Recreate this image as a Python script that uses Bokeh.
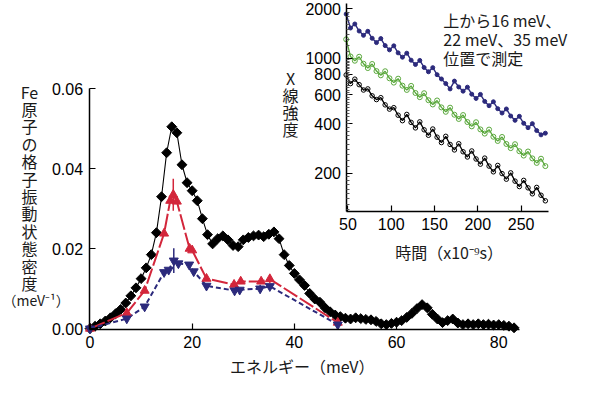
from bokeh.plotting import figure
from bokeh.models import (Range1d, LogScale, LinearAxis, LogAxis, FixedTicker,
                          PrintfTickFormatter, Label)
from bokeh.embed import file_html
from bokeh.resources import INLINE

# ---------------- main chart data (phonon DOS of Fe) ----------------
energy_total = [0, 1, 2, 3, 4, 5, 6, 7, 8, 9, 10, 11, 12, 13, 14, 15, 16, 17, 18, 19,
                20, 21, 22, 23, 24, 25, 26, 27, 28, 29, 30, 31, 32, 33, 34, 35, 36, 37, 38, 39,
                40, 41, 42, 43, 44, 45, 46, 47, 48, 49, 50, 51, 52, 53, 54, 55, 56, 57, 58, 59,
                60, 61, 62, 63, 64, 65, 66, 67, 68, 69, 70, 71, 72, 73, 74, 75, 76, 77, 78, 79,
                80, 81, 82, 83]
dos_total = [0.0000, 0.0006, 0.0012, 0.0019, 0.0027, 0.0037, 0.0048, 0.0064, 0.0082, 0.0102,
             0.0125, 0.0152, 0.0185, 0.0240, 0.0330, 0.0440, 0.0505, 0.0490, 0.0410, 0.0365,
             0.0345, 0.0320, 0.0275, 0.0235, 0.0212, 0.0225, 0.0232, 0.0222, 0.0208, 0.0205,
             0.0222, 0.0228, 0.0232, 0.0234, 0.0230, 0.0236, 0.0242, 0.0225, 0.0185, 0.0158,
             0.0138, 0.0122, 0.0108, 0.0088, 0.0074, 0.0066, 0.0052, 0.0042, 0.0034, 0.0030,
             0.0026, 0.0024, 0.0027, 0.0025, 0.0023, 0.0022, 0.0018, 0.0012, 0.0010, 0.0013,
             0.0016, 0.0020, 0.0028, 0.0038, 0.0050, 0.0060, 0.0052, 0.0036, 0.0024, 0.0015,
             0.0020, 0.0024, 0.0014, 0.0010, 0.0012, 0.0010, 0.0012, 0.0010, 0.0011, 0.0009,
             0.0010, 0.0008, 0.0006, 0.0002]

energy_red = [0, 7.2, 10.7, 14.5, 15.7, 16.3, 17.0, 19.5, 20.0, 22.8, 28.2, 29.5, 33.5, 35.2, 48.5]
dos_red = [0, 0.0039, 0.0095, 0.0238, 0.0320, 0.0335, 0.0318, 0.0200, 0.0196, 0.0125,
           0.0110, 0.0118, 0.0118, 0.0124, 0.0015]
err_red = [0, 0, 0, 0, 0, 0.0040, 0, 0, 0, 0, 0, 0, 0, 0.0010, 0]

energy_blue = [0, 7.2, 10.7, 14.5, 15.4, 16.4, 17.3, 19.4, 20.3, 22.8, 28.3, 29.3, 33.3, 35.2, 48.5]
dos_blue = [0, 0.0025, 0.0055, 0.0141, 0.0147, 0.0170, 0.0163, 0.0160, 0.0143, 0.0107,
            0.0095, 0.0097, 0.0100, 0.0106, 0.0010]
err_blue = [0, 0, 0, 0, 0, 0.0031, 0, 0, 0, 0, 0, 0, 0.0010, 0, 0]

main_x_ticks = [0, 20, 40, 60, 80]
main_y_ticks = [0.0, 0.02, 0.04, 0.06]

# ---------------- inset data (X-ray intensity vs time) ----------------
time_ns = [48, 53, 58, 63, 68, 73, 78, 83, 88, 93, 98, 103, 108, 113, 118, 123, 128, 133,
           138, 143, 148, 153, 158, 163, 168, 173, 178, 183, 188, 193, 198, 203, 208, 213,
           218, 223, 228, 233, 238, 243, 248, 253, 258, 263, 268, 273, 278]
int_16mev = [1850, 1523, 1611, 1460, 1375, 1455, 1319, 1242, 1314, 1191, 1122, 1187, 1076,
             1013, 1071, 971, 915, 968, 877, 826, 875, 793, 747, 700, 650, 725, 668, 630,
             666, 604, 569, 602, 546, 514, 543, 493, 464, 491, 445, 419, 443, 402, 378, 400,
             363, 342, 350]
int_22mev = [1300, 1023, 964, 1019, 924, 870, 921, 834, 786, 832, 754, 710, 750, 680, 641,
             678, 614, 579, 612, 555, 523, 553, 502, 472, 500, 453, 427, 451, 409, 385, 408,
             369, 348, 368, 333, 314, 332, 301, 284, 300, 272, 256, 271, 246, 231, 245, 221]
int_35mev = [790, 700, 745, 690, 640, 650, 590, 560, 575, 520, 490, 500, 450, 417, 455, 407,
             377, 410, 367, 340, 371, 331, 307, 335, 299, 277, 302, 270, 251, 273, 244, 227,
             247, 221, 204, 223, 199, 184, 201, 179, 166, 181, 163, 150, 164, 147, 136]

inset_x_ticks = [50, 100, 150, 200, 250]
inset_y_ticks = [200, 400, 600, 800, 1000, 2000]
inset_y_minor = ([120, 130, 140, 150, 160, 170, 180, 190] + list(range(220, 1000, 20)) +
                 list(range(1100, 2000, 100)))

# ---------------- layout (frame = whole canvas) ----------------
W, H = 578, 378
PX_E = 5.109          # px per meV
PX_D = 0.0002502      # DOS per px
E0_PX, D0_PX = 89.5, 328.1
XS = -E0_PX / PX_E
XE = XS + W / PX_E
YS = -(H - D0_PX) * PX_D
YE = YS + H * PX_D

T_PX = 0.866          # px per ns
T_REF, T_REF_PX = 47.8, 345.5
ITS = T_REF - T_REF_PX / T_PX
ITE = T_REF + (W - T_REF_PX) / T_PX
DEC = 164.7           # px per decade
L1000_PX = 57.6
IYE = 10 ** (3 + L1000_PX / DEC)
IYS = 10 ** (3 - (H - L1000_PX) / DEC)

RED = "#d3263b"
NAVY = "#2c2a7c"
GREEN = "#5aa83c"
TXT = "#1a1a1a"
JP = "Noto Sans CJK JP"
LAT = "Liberation Sans"

p = figure(width=W, height=H, output_backend="svg", toolbar_location=None,
           x_range=Range1d(XS, XE), y_range=Range1d(YS, YE),
           x_axis_location=None, y_axis_location=None,
           min_border_left=0, min_border_right=0, min_border_top=0, min_border_bottom=0,
           extra_x_ranges={"ix": Range1d(ITS, ITE), "px": Range1d(0, W)},
           extra_y_ranges={"iy": Range1d(IYS, IYE), "py": Range1d(H, 0)},
           extra_y_scales={"iy": LogScale()})
p.grid.visible = False
p.outline_line_color = None
p.background_fill_color = "white"
p.border_fill_color = "white"


def style_axis(ax):
    ax.axis_line_color = "black"
    ax.axis_line_width = 1.5
    ax.major_tick_line_color = "black"
    ax.major_tick_line_width = 1.2
    ax.major_tick_in = 6
    ax.major_tick_out = 0
    ax.minor_tick_in = 0
    ax.minor_tick_out = 0
    ax.major_label_text_font = LAT
    ax.major_label_text_font_size = "16px"
    ax.major_label_text_color = "black"


AX_Y = -0.000225      # main x-axis position (DOS)
AX_X = -0.18          # main y-axis position (meV)

xa = LinearAxis(fixed_location=AX_Y, bounds=(AX_X, 84), ticker=FixedTicker(ticks=main_x_ticks))
style_axis(xa)
xa.major_label_standoff = 7
p.add_layout(xa, "below")

ya = LinearAxis(fixed_location=AX_X, bounds=(AX_Y, 0.0601),
                ticker=FixedTicker(ticks=main_y_ticks),
                formatter=PrintfTickFormatter(format="%.2f"))
style_axis(ya)
ya.major_label_standoff = 6
p.add_layout(ya, "left")

# ---------------- main glyphs ----------------
p.line(energy_total, dos_total, line_color="black", line_width=1.1)
p.scatter(energy_total, dos_total, marker="square", angle=0.785, size=7,
          fill_color="black", line_color="black")

p.line(energy_red, dos_red, line_color=RED, line_width=2, line_dash="16 3")
p.line(energy_blue, dos_blue, line_color=NAVY, line_width=2, line_dash="5 3")

p.segment(energy_red, [d - s for d, s in zip(dos_red, err_red)],
          energy_red, [d + s for d, s in zip(dos_red, err_red)],
          line_color=RED, line_width=1.5)
p.segment(energy_blue, [d - s for d, s in zip(dos_blue, err_blue)],
          energy_blue, [d + s for d, s in zip(dos_blue, err_blue)],
          line_color=NAVY, line_width=1.5)

p.scatter(energy_red, dos_red, marker="triangle", size=9, fill_color=RED, line_color=RED)
p.scatter(energy_blue, dos_blue, marker="inverted_triangle", size=9,
          fill_color=NAVY, line_color=NAVY)

# ---------------- inset ----------------
iax = LinearAxis(x_range_name="ix", y_range_name="iy", fixed_location=117,
                 bounds=(47.8, 281.4), ticker=FixedTicker(ticks=inset_x_ticks))
style_axis(iax)
iax.major_label_standoff = 6
p.add_layout(iax, "below")

iay = LogAxis(x_range_name="ix", y_range_name="iy", fixed_location=47.8,
              bounds=(117, 2148),
              ticker=FixedTicker(ticks=inset_y_ticks, minor_ticks=inset_y_minor),
              formatter=PrintfTickFormatter(format="%d"))
style_axis(iay)
iay.minor_tick_in = 3
iay.minor_tick_line_color = "#555555"
iay.major_label_standoff = 5
p.add_layout(iay, "left")

p.line(time_ns, int_16mev, x_range_name="ix", y_range_name="iy",
       line_color=NAVY, line_width=1.4)
p.scatter(time_ns, int_16mev, x_range_name="ix", y_range_name="iy",
          marker="circle", size=4, fill_color=NAVY, line_color=NAVY)
p.line(time_ns, int_22mev, x_range_name="ix", y_range_name="iy",
       line_color=GREEN, line_width=1.3)
p.scatter(time_ns, int_22mev, x_range_name="ix", y_range_name="iy",
          marker="circle", size=5, fill_color=None, line_color=GREEN, line_width=1)
p.line(time_ns, int_35mev, x_range_name="ix", y_range_name="iy",
       line_color="black", line_width=1.3)
p.scatter(time_ns, int_35mev, x_range_name="ix", y_range_name="iy",
          marker="circle", size=4.5, fill_color=None, line_color="black", line_width=1)


# ---------------- texts ----------------
def txt(x, y, s, size="16px", align="center", font=JP):
    p.add_layout(Label(x=x, y=y, x_range_name="px", y_range_name="py", text=s,
                       text_align=align, text_baseline="middle", text_font=font,
                       text_font_size=size, text_color=TXT))


ylab = ["Fe", "原", "子", "の", "格", "子", "振", "動", "状", "態", "密", "度"]
for i, ch in enumerate(ylab):
    txt(29, 91.1 + 17.4 * i, ch)
txt(2, 91.1 + 17.4 * 12, "（meV⁻¹）", size="14px", align="left")

txt(301.7, 365.5, "エネルギー（meV）")

for i, ch in enumerate(["X", "線", "強", "度"]):
    txt(290, 77 + 17 * i, ch)

txt(448.6, 251.4, "時間（x10⁻⁹s）")

for i, line in enumerate(["上から16 meV、", "22 meV、35 meV", "位置で測定"]):
    txt(442.8, 19.2 + 19.3 * i, line, size="16px", align="left")

open("out.html", "w").write(file_html(p, INLINE))
